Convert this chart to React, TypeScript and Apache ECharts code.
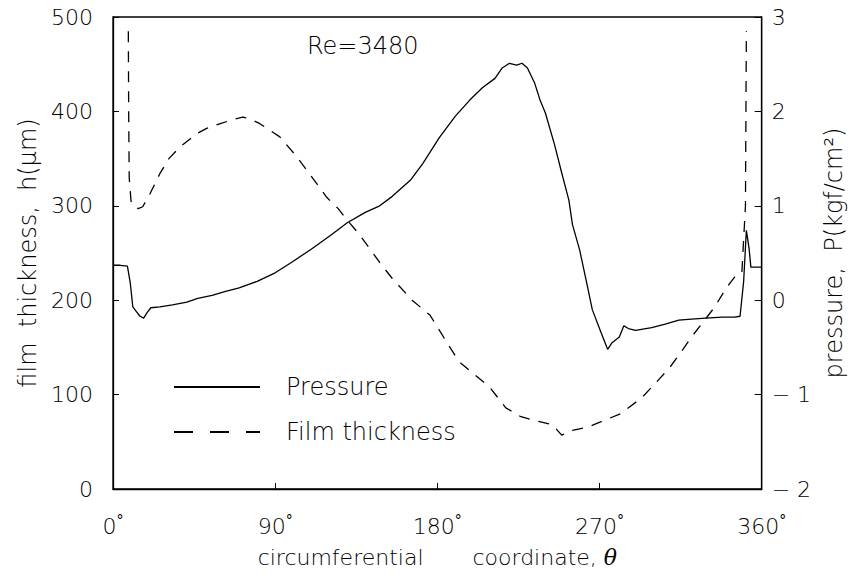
import React, { useEffect, useRef } from "react";
import * as echarts from "echarts";

// circumferential coordinate (deg) and pressure (kgf/cm^2)
const pressureTheta = [0, 4, 8, 9.6, 11, 13, 15, 17, 19, 21, 26, 33, 41, 47, 55, 62, 70, 80, 90, 99, 110, 121, 130, 140, 148, 155, 165, 172, 181, 190, 198, 205, 212, 216, 220, 224, 227, 230, 234, 237, 240, 245, 249, 253, 255, 259, 262.6, 266, 271, 274.5, 277, 281, 283.5, 286, 290, 299, 307, 314, 321, 329, 338, 345, 348, 350, 351.5, 353, 354, 357, 360];
const pressureValues = [0.37, 0.37, 0.36, 0.18, -0.07, -0.12, -0.17, -0.19, -0.13, -0.08, -0.07, -0.05, -0.02, 0.02, 0.05, 0.09, 0.13, 0.2, 0.29, 0.4, 0.54, 0.69, 0.82, 0.93, 1.0, 1.1, 1.27, 1.45, 1.72, 1.95, 2.12, 2.25, 2.35, 2.46, 2.51, 2.49, 2.51, 2.46, 2.3, 2.12, 1.98, 1.65, 1.35, 1.06, 0.8, 0.53, 0.21, -0.1, -0.35, -0.52, -0.45, -0.39, -0.27, -0.3, -0.32, -0.29, -0.25, -0.21, -0.2, -0.19, -0.18, -0.18, -0.17, 0.2, 0.74, 0.55, 0.35, 0.35, 0.35];

// circumferential coordinate (deg) and film thickness (um)
const filmTheta = [8.5, 8.7, 9, 10, 11.5, 14, 16.5, 20.6, 26, 31, 37, 47, 52, 59.5, 66, 72, 76, 81.5, 92.6, 102, 109, 118.6, 125, 129, 137, 148, 155, 166, 176, 187, 192, 199.5, 209, 218, 226, 233, 244, 249, 255, 264, 273, 282, 293.6, 301, 308.7, 316, 321, 328, 334, 340, 346, 349, 351, 351.5];
const filmValues = [485, 400, 330, 305, 299, 297, 299, 313, 334, 350, 362, 377, 382, 387, 391, 394, 392, 387, 373, 352, 334, 309, 297, 287, 269, 240, 223, 200, 184, 150, 135, 123, 108, 86, 77, 73, 68, 57, 62, 66, 73, 80, 97, 112, 128, 147, 161, 178, 193, 212, 227, 229, 300, 485];

const xTicks = [0, 90, 180, 270, 360];
const leftTicks = [0, 100, 200, 300, 400, 500];
const rightTicks = [-2, -1, 0, 1, 2, 3];

const FONT = "'DejaVu Sans', sans-serif";

export default function App() {
  const ref = useRef<HTMLDivElement>(null);
  useEffect(() => {
    if (!ref.current) return;
    const chart = echarts.init(ref.current, undefined, { renderer: "svg" });
    const pressureData = pressureTheta.map((t, i) => [t, pressureValues[i]]);
    const filmData = filmTheta.map((t, i) => [t, filmValues[i]]);
    const labelStyle = { color: "#000", fontFamily: FONT, fontWeight: 200, fontSize: 22 };
    const nameStyle = { ...labelStyle, fontSize: 24 };
    chart.setOption({
      animation: false,
      backgroundColor: "#fff",
      textStyle: { fontFamily: FONT },
      grid: { left: 113, right: 91, top: 17, bottom: 93, show: true, borderColor: "#000", borderWidth: 1.3, containLabel: false },
      legend: {
        orient: "vertical",
        left: 168,
        top: 368,
        itemWidth: 86,
        itemHeight: 14,
        itemGap: 17,
        itemStyle: { opacity: 0 },
        textStyle: { ...nameStyle, padding: [0, 0, 0, 21], lineHeight: 28 },
        data: [
          { name: "Pressure" },
          { name: "Film thickness", lineStyle: { type: [19, 17] } },
        ],
      },
      graphic: [
        { type: "text", left: 307, top: 34, style: { text: "Re=3480", fill: "#000", font: `200 24px ${FONT}` } },
      ],
      xAxis: {
        type: "value",
        min: xTicks[0],
        max: xTicks[xTicks.length - 1],
        interval: 90,
        name: "circumferential       coordinate, {t|θ}",
        nameLocation: "middle",
        nameGap: 57,
        nameTextStyle: {
          ...labelStyle,
          rich: { t: { fontFamily: "'DejaVu Serif', serif", fontStyle: "italic", fontSize: 22, color: "#000" } },
        },
        axisLine: { lineStyle: { color: "#000", width: 1.3 } },
        axisTick: { inside: true, length: 6, lineStyle: { color: "#000" } },
        splitLine: { show: false },
        axisLabel: {
          margin: 24,
          formatter: (v: number) => `{n|${v}}{d|°}`,
          rich: {
            n: { ...labelStyle, lineHeight: 26 },
            d: { color: "#000", fontFamily: FONT, fontSize: 14, verticalAlign: "top", lineHeight: 12 },
          },
        },
      },
      yAxis: [
        {
          type: "value",
          position: "left",
          min: leftTicks[0],
          max: leftTicks[leftTicks.length - 1],
          interval: 100,
          name: "film  thickness,  h(μm)",
          nameLocation: "middle",
          nameRotate: 90,
          nameGap: 56,
          nameTextStyle: nameStyle,
          axisLine: { show: true, lineStyle: { color: "#000", width: 1.3 } },
          axisTick: { show: true, inside: true, length: 6, lineStyle: { color: "#000" } },
          splitLine: { show: false },
          axisLabel: { ...labelStyle, margin: 20 },
        },
        {
          type: "value",
          position: "right",
          min: rightTicks[0],
          max: rightTicks[rightTicks.length - 1],
          interval: 1,
          name: "pressure,  P(kgf/cm²)",
          nameLocation: "middle",
          nameRotate: 90,
          nameGap: 48,
          nameTextStyle: nameStyle,
          axisLine: { show: true, lineStyle: { color: "#000", width: 1.3 } },
          axisTick: { show: true, inside: true, length: 7, lineStyle: { color: "#000" } },
          splitLine: { show: false },
          axisLabel: { ...labelStyle, margin: 10, formatter: (v: number) => (v < 0 ? `− ${-v}` : `${v}`) },
        },
      ],
      series: [
        {
          name: "Pressure",
          type: "line",
          yAxisIndex: 1,
          data: pressureData,
          showSymbol: false,
          symbol: "none",
          lineStyle: { color: "#000", width: 1.3 },
          itemStyle: { color: "#000" },
        },
        {
          name: "Film thickness",
          type: "line",
          yAxisIndex: 0,
          data: filmData,
          showSymbol: false,
          symbol: "none",
          lineStyle: { color: "#000", width: 1.3, type: [11, 9] },
          itemStyle: { color: "#000" },
        },
      ],
    });
    return () => chart.dispose();
  }, []);
  return <div ref={ref} style={{ position: "absolute", left: 0, top: 0, width: 854, height: 582 }} />;
}
